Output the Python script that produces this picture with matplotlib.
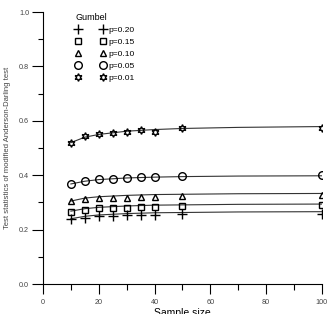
import matplotlib
matplotlib.use("Agg")
import matplotlib.pyplot as plt
from matplotlib.ticker import MultipleLocator

plt.rcParams['font.family'] = ['Liberation Sans', 'DejaVu Sans']

# sample sizes and observed test statistics (Gumbel)
sample_size = [10, 15, 20, 25, 30, 35, 40, 50, 100]
p020 = [0.238, 0.244, 0.249, 0.250, 0.253, 0.253, 0.255, 0.258, 0.256]
p015 = [0.266, 0.274, 0.278, 0.280, 0.281, 0.283, 0.283, 0.286, 0.289]
p010 = [0.304, 0.312, 0.316, 0.315, 0.318, 0.320, 0.320, 0.324, 0.327]
p005 = [0.368, 0.380, 0.386, 0.387, 0.391, 0.393, 0.392, 0.396, 0.400]
p001 = [0.518, 0.545, 0.552, 0.556, 0.558, 0.566, 0.558, 0.574, 0.574]

# fitted curves
curve_n = [10, 15, 20, 30, 40, 50, 70, 100]
fit020 = [0.240, 0.249, 0.254, 0.259, 0.262, 0.263, 0.265, 0.266]
fit015 = [0.268, 0.277, 0.282, 0.287, 0.290, 0.291, 0.293, 0.294]
fit010 = [0.305, 0.316, 0.321, 0.326, 0.329, 0.330, 0.332, 0.333]
fit005 = [0.368, 0.378, 0.384, 0.390, 0.393, 0.395, 0.397, 0.398]
fit001 = [0.520, 0.540, 0.550, 0.562, 0.568, 0.572, 0.576, 0.579]

labels = ["p=0.20", "p=0.15", "p=0.10", "p=0.05", "p=0.01"]
markers = ["+", "s", "^", "o", (6, 1, 0)]
sizes = [6.5, 5, 5, 5.5, 5.5]

fig = plt.figure(figsize=(3.32, 3.14), dpi=100)
ax = fig.add_axes([0.1295, 0.0955, 0.840, 0.866])

points = [p020, p015, p010, p005, p001]
fits = [fit020, fit015, fit010, fit005, fit001]
for vals, fit, lab, m, s in zip(points, fits, labels, markers, sizes):
    ax.plot(curve_n, fit, color="#333333", lw=0.8)
    ax.plot(sample_size, vals, linestyle="none", marker=m, ms=s,
            mfc="none", mec="black", mew=1.0, label=lab)

ax.set_xlim(0, 100)
ax.set_ylim(0, 1.0)
ax.xaxis.set_major_locator(MultipleLocator(20))
ax.xaxis.set_minor_locator(MultipleLocator(10))
ax.yaxis.set_major_locator(MultipleLocator(0.2))
ax.yaxis.set_minor_locator(MultipleLocator(0.1))
ax.yaxis.set_major_formatter(plt.FormatStrFormatter("%.1f"))

for side in ["top", "right"]:
    ax.spines[side].set_visible(False)
for side in ["left", "bottom"]:
    ax.spines[side].set_linewidth(0.8)

ax.tick_params(which="both", direction="out", width=0.8, labelsize=5.2, labelcolor="#444444")
ax.tick_params(axis="x", which="major", length=7, pad=4)
ax.tick_params(axis="x", which="minor", length=4)
ax.tick_params(axis="y", which="major", length=8, pad=2)
ax.tick_params(axis="y", which="minor", length=3.5)

ax.set_xlabel("Sample size", fontsize=7.5, labelpad=1.5)
ax.set_ylabel("Test statistics of modified Anderson-Darling test", fontsize=5.5,
              color="#444444", labelpad=6)

leg = ax.legend(loc="upper left", bbox_to_anchor=(0.09, 1.025), frameon=False,
                numpoints=2, handlelength=3.6, handletextpad=0.3, labelspacing=0.5,
                fontsize=6, title="Gumbel", title_fontsize=6.5)
leg._legend_box.align = "left"

fig.savefig("out.png", dpi=100)
